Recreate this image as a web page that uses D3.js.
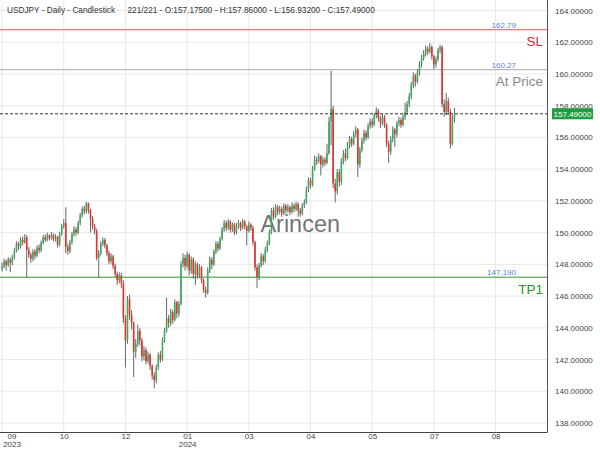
<!DOCTYPE html>
<html><head><meta charset="utf-8">
<script src="https://cdn.jsdelivr.net/npm/d3@7"></script>
<style>html,body{margin:0;padding:0;background:#fff;}svg{display:block;font-family:"Liberation Sans",Arial,sans-serif;}</style>
</head><body>
<svg id="chart" width="600" height="450"></svg>
<script>
const titleLeft = "USDJPY - Daily - Candlestick";
const titleRight = "221/221 - O:157.17500 - H:157.86000 - L:156.93200 - C:157.49000";
const watermark = "Arincen";
const tickIndex = [0,30,60,90,120,150,180,210,240];
const tickMonths = ["09","10","12","01","03","04","05","07","08"];
const tickYears = ["2023","","","2024","","","","",""];
const priceTicks = [138,140,142,144,146,148,150,152,154,156,158,160,162,164];
const levelNames = ["SL","At Price","TP1"];
const levelValues = [162.79,160.27,147.19];
const levelLabels = ["162.79","160.27","147.190"];
const levelColors = ["#f05a5a","#a8a8a8","#2f9a2f"];
const levelTextColors = ["#e02a2a","#8a8a8a","#23962a"];
const lastPrice = 157.49;

const opens = [147.70,147.85,148.20,147.95,148.30,148.10,148.45,148.90,149.30,149.15,
149.55,149.40,149.70,148.90,148.60,148.35,148.80,148.55,149.05,148.90,
149.35,149.70,149.55,149.80,149.65,149.85,149.60,149.75,149.25,149.90,
150.40,150.60,149.10,148.85,149.40,149.90,150.20,150.00,150.60,151.10,
151.50,151.35,151.85,151.40,150.90,150.40,150.10,148.40,148.70,149.30,
149.55,149.20,148.70,148.20,148.50,147.90,147.40,147.00,147.30,146.80,
144.60,143.20,145.80,144.80,144.30,142.50,143.00,143.80,143.20,142.20,
142.60,141.90,142.30,141.60,141.00,140.70,141.50,142.30,142.00,143.20,
143.80,144.60,144.30,145.00,144.50,145.60,144.90,145.50,148.00,148.40,
147.90,148.60,147.60,148.30,147.40,148.00,147.30,147.80,147.00,146.40,
146.20,147.60,148.30,148.00,148.80,149.30,149.00,149.60,150.20,150.60,
150.30,150.70,150.20,150.50,150.00,150.40,150.60,150.30,150.70,150.40,
150.10,150.50,150.30,149.40,147.80,147.20,147.90,148.50,148.20,148.90,
149.30,150.00,151.40,151.00,151.60,151.30,151.50,151.20,151.70,151.40,
151.60,151.30,151.70,151.50,151.80,151.40,151.20,151.70,151.90,152.70,
153.30,153.00,154.00,154.60,154.50,154.80,154.30,154.60,154.40,155.00,
157.00,157.80,153.10,152.60,153.80,153.20,154.50,155.00,154.70,155.50,
155.90,155.60,156.20,156.50,154.30,155.20,155.80,156.30,156.00,156.70,
157.00,156.80,157.40,157.70,157.20,156.90,157.30,156.80,155.60,155.10,
155.90,156.50,156.20,156.90,157.10,156.80,157.30,157.60,158.10,158.60,
159.30,159.90,159.50,160.10,160.60,161.00,161.30,161.60,161.40,161.70,
161.10,160.60,160.90,161.50,161.70,158.10,157.60,158.30,157.60,155.60,
157.175];
const highs = [148.10,148.35,148.30,148.45,148.40,148.60,149.05,149.45,149.40,149.70,
149.75,149.90,149.85,149.10,148.75,148.95,148.95,149.20,149.25,149.50,
149.85,149.90,150.00,149.90,150.05,149.95,149.90,149.80,150.05,150.55,
150.85,151.60,149.30,149.55,150.05,150.40,150.35,150.75,151.25,151.65,
151.70,151.95,151.90,151.50,151.05,150.55,150.25,148.90,149.45,149.70,
149.65,149.30,148.85,148.70,148.60,148.05,147.55,147.50,147.45,147.00,
144.80,146.00,146.10,145.10,144.40,143.30,144.20,144.00,143.35,142.85,
142.75,142.50,142.40,141.70,141.20,141.70,142.45,142.55,143.40,144.00,
145.90,144.80,145.20,145.15,145.80,145.70,145.70,148.20,148.70,148.60,
148.80,148.70,148.50,148.45,148.20,148.10,148.00,147.90,147.10,146.60,
147.80,148.50,148.45,148.95,149.45,149.45,149.75,150.35,150.80,150.75,
150.85,150.80,150.65,150.60,150.60,150.80,150.70,150.85,150.80,150.50,
150.70,150.60,150.45,149.50,148.00,148.10,148.70,148.65,149.10,149.50,
150.20,151.55,151.60,151.80,151.75,151.70,151.65,151.85,151.80,151.80,
151.70,151.90,151.85,151.95,151.90,151.55,151.85,152.10,152.90,153.50,
153.45,154.20,154.85,154.80,155.00,154.90,154.80,154.75,155.60,157.30,
160.20,158.00,153.40,154.00,154.00,154.70,155.20,155.30,155.70,156.10,
156.05,156.40,156.70,156.60,155.40,156.00,156.50,156.45,156.90,157.20,
157.20,157.55,157.90,157.80,157.35,157.50,157.40,156.90,155.80,156.10,
156.70,156.60,157.05,157.30,157.25,157.50,158.20,158.30,158.80,159.50,
160.10,160.00,160.30,160.80,161.20,161.50,161.80,161.75,161.95,161.80,
161.20,161.10,161.65,161.85,161.80,158.40,158.80,158.50,157.80,157.40,
157.86];
const lows = [147.55,147.75,147.60,147.85,147.50,147.95,148.30,148.75,148.90,149.00,
149.20,149.30,147.15,148.40,148.10,148.20,148.30,148.45,148.70,148.75,
149.25,149.40,149.45,149.50,149.55,149.45,149.45,149.05,149.15,149.80,
150.25,148.70,148.60,148.70,149.25,149.75,149.80,149.90,150.45,150.95,
151.15,151.20,151.20,150.00,150.20,149.90,148.25,147.15,148.55,149.15,
149.00,148.50,148.00,148.05,147.70,147.20,146.70,146.80,146.50,144.30,
141.50,143.00,144.50,143.90,140.90,142.10,142.80,142.90,141.90,141.95,
141.70,141.75,141.35,140.75,140.20,140.50,141.35,141.80,141.90,143.05,
143.70,144.00,144.10,144.25,144.40,144.60,144.70,145.40,147.80,147.60,
147.75,147.30,147.40,147.10,146.70,147.10,147.15,146.80,146.20,145.90,
146.10,147.45,147.70,147.90,148.65,148.80,148.90,149.50,150.05,150.10,
150.15,150.00,150.05,149.85,149.90,150.25,150.10,150.20,150.20,149.20,
150.00,150.10,149.20,147.60,146.50,147.00,147.80,147.95,148.10,148.75,
149.20,149.90,150.80,150.90,151.10,151.15,151.00,151.10,151.20,151.25,
151.10,151.20,151.30,151.35,151.00,151.00,151.10,151.55,151.80,152.55,
152.80,152.90,153.90,154.25,154.35,153.60,154.10,154.20,154.30,154.90,
155.50,152.80,151.90,152.40,152.90,153.00,154.30,154.50,154.60,155.30,
155.40,155.50,156.00,153.50,154.10,155.05,155.60,155.80,155.90,156.55,
156.60,156.70,157.20,157.00,156.60,156.75,156.60,155.40,154.40,154.90,
155.70,155.40,156.00,156.70,156.60,156.70,157.10,157.40,157.90,158.40,
159.10,159.20,159.40,159.90,160.40,160.85,161.10,161.20,161.30,160.90,
160.30,160.40,160.80,161.30,157.90,157.30,157.40,157.40,155.30,155.50,
156.932];
const closes = [147.85,148.20,147.95,148.30,148.10,148.45,148.90,149.30,149.15,149.55,
149.40,149.70,148.90,148.60,148.35,148.80,148.55,149.05,148.90,149.35,
149.70,149.55,149.80,149.65,149.85,149.60,149.75,149.25,149.90,150.40,
150.60,149.10,148.85,149.40,149.90,150.20,150.00,150.60,151.10,151.50,
151.35,151.85,151.40,150.90,150.40,150.10,148.40,148.70,149.30,149.55,
149.20,148.70,148.20,148.50,147.90,147.40,147.00,147.30,146.80,144.60,
143.20,145.80,144.80,144.30,142.50,143.00,143.80,143.20,142.20,142.60,
141.90,142.30,141.60,141.00,140.70,141.50,142.30,142.00,143.20,143.80,
144.60,144.30,145.00,144.50,145.60,144.90,145.50,148.00,148.40,147.90,
148.60,147.60,148.30,147.40,148.00,147.30,147.80,147.00,146.40,146.20,
147.60,148.30,148.00,148.80,149.30,149.00,149.60,150.20,150.60,150.30,
150.70,150.20,150.50,150.00,150.40,150.60,150.30,150.70,150.40,150.10,
150.50,150.30,149.40,147.80,147.20,147.90,148.50,148.20,148.90,149.30,
150.00,151.40,151.00,151.60,151.30,151.50,151.20,151.70,151.40,151.60,
151.30,151.70,151.50,151.80,151.40,151.20,151.70,151.90,152.70,153.30,
153.00,154.00,154.60,154.50,154.80,154.30,154.60,154.40,155.00,157.00,
157.80,153.10,152.60,153.80,153.20,154.50,155.00,154.70,155.50,155.90,
155.60,156.20,156.50,154.30,155.20,155.80,156.30,156.00,156.70,157.00,
156.80,157.40,157.70,157.20,156.90,157.30,156.80,155.60,155.10,155.90,
156.50,156.20,156.90,157.10,156.80,157.30,157.60,158.10,158.60,159.30,
159.90,159.50,160.10,160.60,161.00,161.30,161.60,161.40,161.70,161.10,
160.60,160.90,161.50,161.70,158.10,157.60,158.30,157.60,155.60,157.20,
157.49];

const W = 600, H = 450;
const plotRight = 547, plotBottom = 432;
const svg = d3.select("#chart");
const x = d3.scaleLinear().domain([-1, 265]).range([0, plotRight]);
const y = d3.scaleLinear().domain([138, 164]).range([423, 10.5]);

// grid
const grid = svg.append("g");
grid.selectAll("line.h").data(priceTicks).join("line")
  .attr("x1", 0).attr("x2", plotRight)
  .attr("y1", d => y(d)).attr("y2", d => y(d))
  .attr("stroke", "#e8e8e8").attr("stroke-width", 1);
grid.selectAll("line.v").data(tickIndex).join("line")
  .attr("x1", d => x(d)).attr("x2", d => x(d))
  .attr("y1", 0).attr("y2", plotBottom)
  .attr("stroke", "#e8e8e8").attr("stroke-width", 1);

// watermark
svg.append("text").attr("x", x(145)).attr("y", y(150.05))
  .attr("text-anchor", "middle").attr("font-size", 23.5)
  .attr("fill", "#5a5a5a").attr("fill-opacity", 0.85).text(watermark);

// level lines
const levels = svg.append("g");
levelValues.forEach((v, k) => {
  levels.append("line").attr("x1", 0).attr("x2", plotRight)
    .attr("y1", y(v)).attr("y2", y(v))
    .attr("stroke", levelColors[k]).attr("stroke-width", 1);
  levels.append("text").attr("x", plotRight - 31).attr("y", y(v) - 2)
    .attr("text-anchor", "end").attr("font-size", 8).attr("fill", "#5b7fe0")
    .text(levelLabels[k]);
  levels.append("text").attr("x", plotRight - 4).attr("y", y(v) + 16.5)
    .attr("text-anchor", "end").attr("font-size", 13.5).attr("fill", levelTextColors[k])
    .text(levelNames[k]);
});

// candles
const idx = d3.range(closes.length);
const candles = svg.append("g");
candles.selectAll("line.wick").data(idx).join("line")
  .attr("x1", i => x(i)).attr("x2", i => x(i))
  .attr("y1", i => y(highs[i])).attr("y2", i => y(lows[i]))
  .attr("stroke", "#666").attr("stroke-width", 1);
candles.selectAll("rect.body").data(idx).join("rect")
  .attr("x", i => x(i) - 0.8).attr("width", 1.6)
  .attr("y", i => y(Math.max(opens[i], closes[i])))
  .attr("height", i => Math.max(0.8, Math.abs(y(opens[i]) - y(closes[i]))))
  .attr("fill", i => closes[i] >= opens[i] ? "#3daa62" : "#e8312f");

// last price dashed line
svg.append("line").attr("x1", 0).attr("x2", plotRight)
  .attr("y1", y(lastPrice)).attr("y2", y(lastPrice))
  .attr("stroke", "#333").attr("stroke-width", 1).attr("stroke-dasharray", "3,2");

// borders
svg.append("line").attr("x1", plotRight + 0.5).attr("x2", plotRight + 0.5)
  .attr("y1", 0).attr("y2", plotBottom).attr("stroke", "#555");
svg.append("line").attr("x1", 0).attr("x2", plotRight + 0.5)
  .attr("y1", plotBottom + 0.5).attr("y2", plotBottom + 0.5).attr("stroke", "#444");

// y axis
const yAxis = d3.axisRight(y).tickValues(priceTicks).tickSize(0).tickPadding(8)
  .tickFormat(d3.format(".5f"));
const gy = svg.append("g").attr("transform", `translate(${plotRight},0)`).call(yAxis);
gy.select(".domain").remove();
gy.selectAll("text").attr("font-size", 8).attr("fill", "#444")
  .attr("font-family", "'Liberation Sans',Arial,sans-serif");

// last price box
const bx = svg.append("g");
bx.append("rect").attr("x", plotRight + 5).attr("y", y(lastPrice) - 5.5)
  .attr("width", 41).attr("height", 11).attr("fill", "#1f9e3f");
bx.append("text").attr("x", plotRight + 25.5).attr("y", y(lastPrice) + 3)
  .attr("text-anchor", "middle").attr("font-size", 8).attr("fill", "#fff")
  .text(d3.format(".5f")(lastPrice));

// x axis
const xAxis = d3.axisBottom(x).tickValues(tickIndex).tickSize(0).tickPadding(1.5)
  .tickFormat((d, k) => tickMonths[k]);
const gx = svg.append("g").attr("transform", `translate(0,${plotBottom})`).call(xAxis);
gx.select(".domain").remove();
gx.selectAll(".tick text").attr("font-size", 8).attr("fill", "#444")
  .attr("font-family", "'Liberation Sans',Arial,sans-serif");
gx.selectAll(".tick").each(function(d, k) {
  if (tickYears[k]) {
    d3.select(this).append("text").attr("y", 9.5).attr("dy", "0.71em")
      .attr("text-anchor", "middle").attr("font-size", 8).attr("fill", "#444")
      .attr("font-family", "'Liberation Sans',Arial,sans-serif")
      .text(tickYears[k]);
  }
});
gx.selectAll(".tick").filter((d, k) => k === 0).selectAll("text").attr("dx", 9.5);

// title
svg.append("text").attr("x", 7).attr("y", 13).attr("font-size", 8.25).attr("fill", "#333").text(titleLeft);
svg.append("text").attr("x", 127.5).attr("y", 13).attr("font-size", 8.25).attr("fill", "#333").text(titleRight);
</script>
</body></html>
